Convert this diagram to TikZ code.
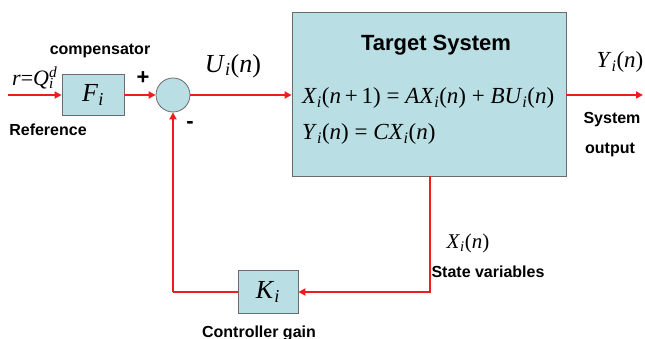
\documentclass[tikz,border=0pt]{standalone}
\usepackage{fontspec}
\setmainfont{Liberation Serif}
\setsansfont{Liberation Sans}
\usetikzlibrary{arrows.meta, positioning}
\definecolor{SRed}{HTML}{EE1C1C}
\definecolor{LBlue}{HTML}{B9DEE3}
\definecolor{DGray}{HTML}{6B6B6B}
\NewDocumentCommand{\Var}{m m}{\textit{#1}\textsubscript{\textit{#2}}}
\NewDocumentCommand{\Tag}{m}{\fontsize{#1}{#1}\selectfont}

\tikzset{
    block/.style={draw=DGray, thick, fill=LBlue, inner sep=0pt},
    sum/.style={draw=DGray, thick, fill=LBlue, circle, minimum size=34pt, inner sep=0pt},
    signal/.style={SRed, line width=2.5pt, -{Triangle[length=7pt, width=7pt]}},
    wire/.style={SRed, line width=2.5pt},
    caption/.style={font=\sffamily\bfseries\Tag{16}, inner sep=1pt}
}

\begin{document}
\begin{tikzpicture}[x=1pt, y=1pt]
\useasboundingbox (0,0) rectangle (645,339);

% blocks
\node[block, minimum width=62pt, minimum height=41pt] (comp) at (93,244) {\Tag{26}\Var{F}{i}};
\node[sum] (sum) at (173,244) {};
\node[block, minimum width=274pt, minimum height=164pt] (plant) at (429,245) {};
\node[block, minimum width=60pt, minimum height=43pt] (gain) at (268,47) {\Tag{26}\Var{K}{i}};

% free ends and corners
\coordinate (in) at (8,244);
\coordinate (out) at (643,244);
\coordinate (tap) at (430,47);
\coordinate (corner) at (173,47);

% forward path
\draw[signal] (in) -- (comp);
\draw[signal] (comp) -- (sum);
\draw[signal] (sum) -- (sum -| plant.west);
\draw[signal] (plant.east |- out) -- (out);

% feedback path
\draw[signal] (plant.south -| tap) -- (tap) -- (gain);
\draw[wire] (gain) -- (corner);
\draw[signal] (corner) -- (sum);

% texts
\node[caption] (comp-label) at (100,288) {compensator};
\node[caption] (ref-label) at (48,209) {Reference};
\node[inner sep=0pt] (ref-sig) at (33,261) {\Tag{22}\textit{r}=\textit{Q}\rlap{\textsuperscript{\textit{d}}}\textsubscript{\textit{i}}};
\node[font=\sffamily\bfseries\Tag{22}, inner sep=0pt] (plus) at (143,261) {+};
\node[font=\sffamily\bfseries\Tag{22}, inner sep=0pt] (minus) at (190,214) {-};
\node (u-label) at (233,273) {\Tag{26}\Var{U}{i}(\textit{n})};
\node[font=\sffamily\bfseries\Tag{22}] (plant-title) at (436,294) {Target System};
\node[anchor=west, inner sep=0pt] (eq-state) at (302,241)
    {\Tag{23}\Var{X}{i}(\textit{n}\,+\,1) = \textit{A}\Var{X}{i}(\textit{n}) + \textit{B}\Var{U}{i}(\textit{n})};
\node[anchor=west, inner sep=0pt] (eq-out) at (302,205)
    {\Tag{23}\Var{Y}{i}(\textit{n}) = \textit{C}\Var{X}{i}(\textit{n})};
\node (y-label) at (620,277) {\Tag{23}\Var{Y}{i}(\textit{n})};
\node[caption] (sys-label) at (612,219) {System};
\node[caption] (out-label) at (610,189) {output};
\node (x-label) at (468,96) {\Tag{21}\Var{X}{i}(\textit{n})};
\node[caption] (state-label) at (488,67) {State variables};
\node[caption] (gain-label) at (259,6) {Controller gain};

\end{tikzpicture}
\end{document}
